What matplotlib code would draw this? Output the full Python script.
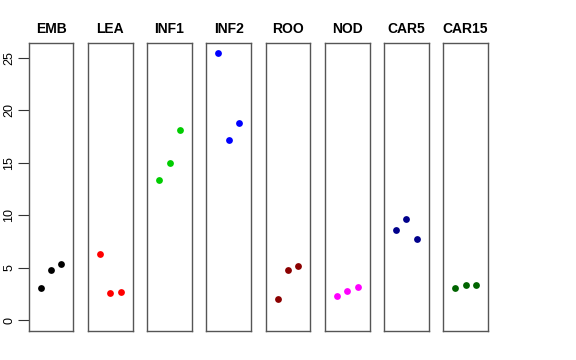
import matplotlib
matplotlib.use("Agg")
import matplotlib.pyplot as plt

# === DADOS ===
groups = ["EMB", "LEA", "INF1", "INF2", "ROO", "NOD", "CAR5", "CAR15"]
colors = ["black", "red", "#00CD00", "blue", "#8B0000", "magenta", "#00008B", "#006400"]
reps = [1, 2, 3]
values = {
    "EMB":   [3.05, 4.83, 5.37],
    "LEA":   [6.29, 2.61, 2.70],
    "INF1":  [13.4, 14.95, 18.1],
    "INF2":  [25.43, 17.14, 18.76],
    "ROO":   [2.04, 4.76, 5.18],
    "NOD":   [2.32, 2.80, 3.18],
    "CAR5":  [8.64, 9.66, 7.78],
    "CAR15": [3.11, 3.33, 3.40],
}
yticks = [0, 5, 10, 15, 20, 25]

plt.rcParams["font.family"] = ["Liberation Sans", "DejaVu Sans"]

fig, axes = plt.subplots(1, len(groups), sharey=True, figsize=(5.76, 3.6), dpi=100)
fig.subplots_adjust(left=28.7 / 576, right=488 / 576, top=1 - 42.7 / 360,
                    bottom=1 - 331 / 360, wspace=0.322)

ymax = max(max(v) for v in values.values())
pad = 0.04 * ymax
for ax, g, c in zip(axes, groups, colors):
    ax.scatter(reps, values[g], s=24, color=c, zorder=3, linewidths=0)
    ax.set_xlim(-0.16, 4.16)
    ax.set_ylim(-pad, ymax + pad)
    ax.set_title(g, fontsize=10, fontweight="bold", pad=7)
    ax.set_xticks([])
    for sp in ax.spines.values():
        sp.set_color("#555555")
        sp.set_linewidth(1.0)
    ax.tick_params(axis="y", left=False, labelleft=False)

axes[0].set_yticks(yticks)
axes[0].tick_params(axis="y", left=True, labelleft=True, length=8, width=0.8,
                    color="#333333", labelsize=9, pad=1.5)
for lab in axes[0].get_yticklabels():
    lab.set_rotation(90)
    lab.set_va("center")

fig.savefig("out.png", dpi=100)
